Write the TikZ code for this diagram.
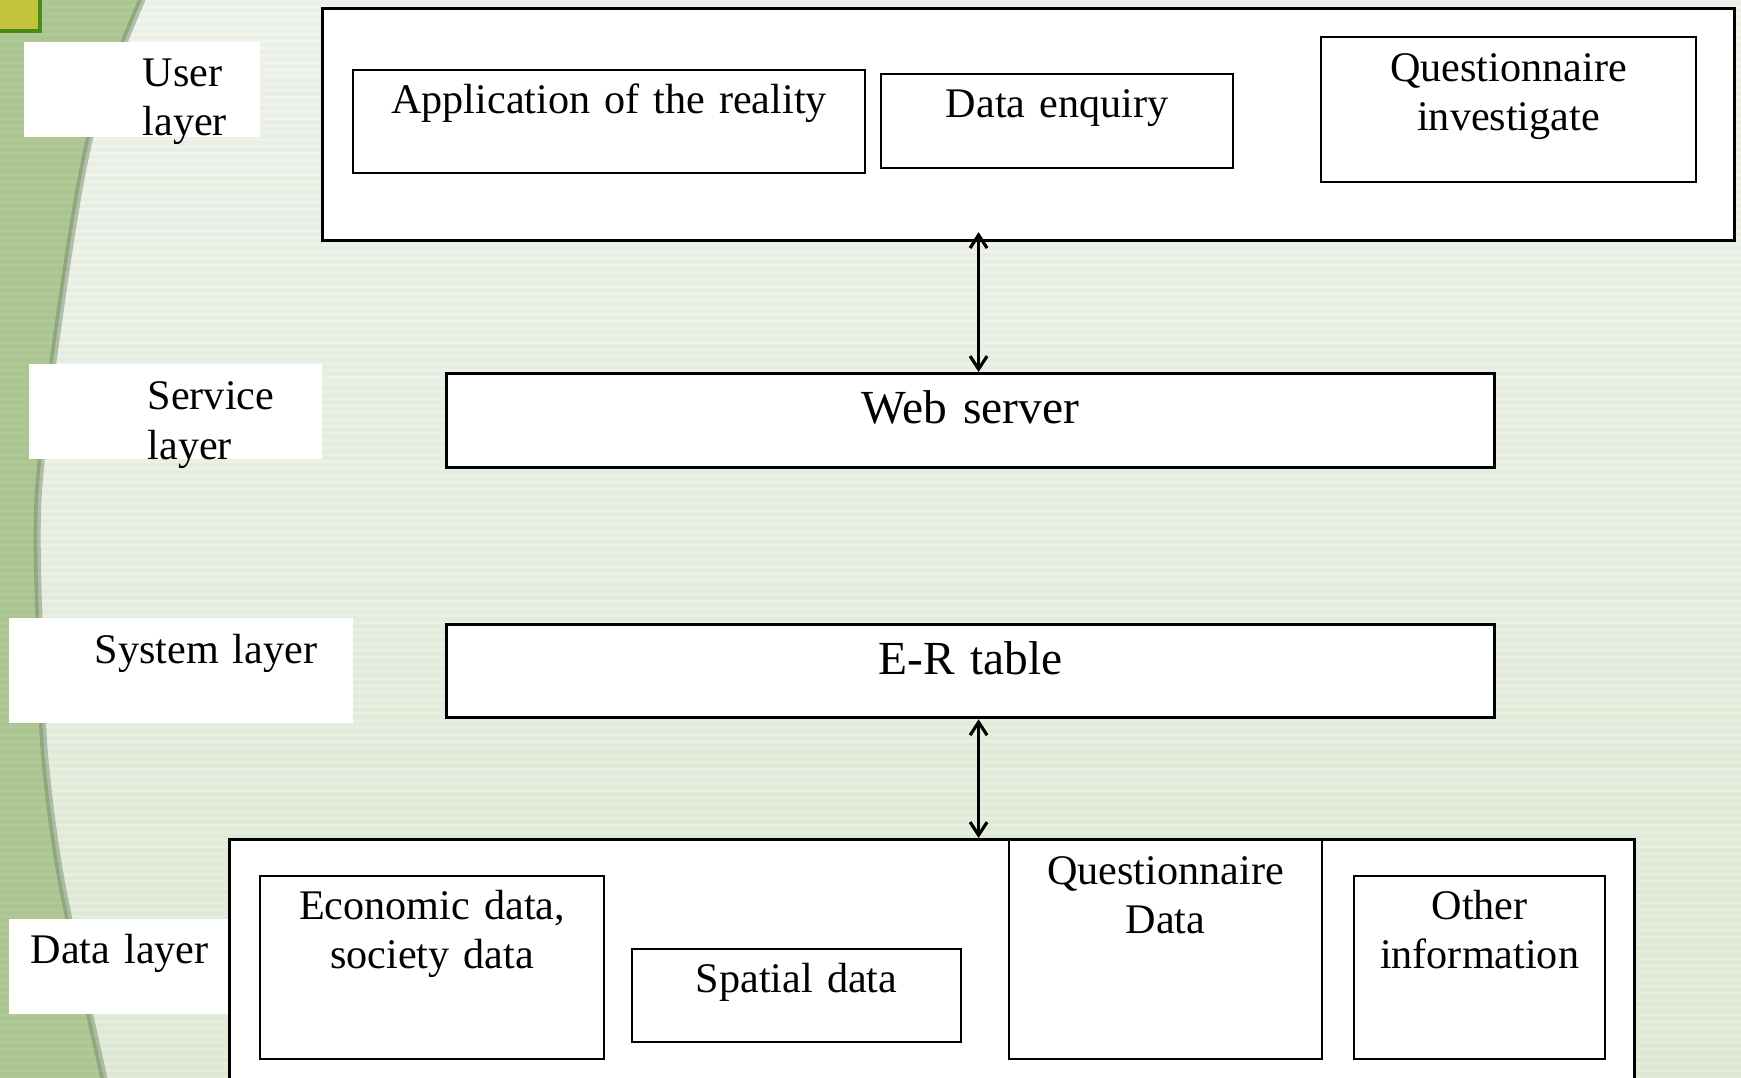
\documentclass[tikz,border=0pt]{standalone}
\usepackage{fontspec}
\setmainfont{Liberation Serif}
\usetikzlibrary{arrows.meta,positioning}

\definecolor{slidetop}{HTML}{F1F4EE}
\definecolor{slidemid}{HTML}{FAFBF8}
\definecolor{slidebot}{HTML}{E3ECD9}
\definecolor{slidegreen}{HTML}{AFC896}
\definecolor{slideedge}{HTML}{6E8466}
\definecolor{tabfill}{HTML}{C2C43C}
\definecolor{tabline}{HTML}{4B8A14}

\begin{document}
\begin{tikzpicture}[
    font=\fontsize{12}{14}\selectfont,
    frame/.style={draw, fill=white, line width=.9pt, inner sep=0pt, anchor=north west},
    box/.style={draw, fill=white, line width=.6pt, inner sep=0pt, anchor=north west, align=center, text height=.43cm},
    bar/.style={box, line width=.9pt, font=\fontsize{13.5}{16}\selectfont, text height=.50cm},
    tag/.style={inner sep=0pt, align=left, anchor=base west, text width=2cm},
    link/.style={{Straight Barb[length=1.3mm,width=1.7mm]}-{Straight Barb[length=1.3mm,width=1.7mm]}, line width=.9pt}
  ]
    \useasboundingbox (0,0) rectangle (17.41,-10.78);
    \clip (0,0) rectangle (17.41,-10.78);

    % slide background: pale wash, green band on the left, fine stripes
    \shade[top color=slidetop, middle color=slidemid, bottom color=slidebot] (0,0) rectangle (17.41,-10.78);
    \fill[slidegreen] (0,0.05) -- plot[smooth] coordinates {(1.44,0.05) (0.90,-1.37) (0.57,-3.33) (0.38,-5.0) (0.40,-6.5) (0.45,-7.6) (0.62,-8.85) (1.05,-10.83)} -- (0,-10.83) -- cycle;
    \draw[slideedge, line width=2pt, opacity=.45] plot[smooth] coordinates {(1.44,0.05) (0.90,-1.37) (0.57,-3.33) (0.38,-5.0) (0.40,-6.5) (0.45,-7.6) (0.62,-8.85) (1.05,-10.83)};
    \foreach \y in {0.03,0.10,...,10.8}
      \draw[green!30!black, opacity=.025, line width=1pt] (0,-\y) -- (17.41,-\y);
    \filldraw[fill=tabfill, draw=tabline, line width=1pt] (-0.2,0.2) rectangle (0.40,-0.31);

    % user layer
    \node[frame, minimum width=14.12cm, minimum height=2.32cm] (user) at (3.21,-0.07) {};
    \node[box, text width=5.12cm, text depth=.60cm] (app) at (3.52,-0.69) {Application of the reality};
    \node[box, text width=3.52cm, text depth=.51cm, right=.14cm of app.north east, anchor=north west, yshift=-.04cm] (enq) {Data enquiry};
    \node[box, text width=3.75cm, text height=.44cm, text depth=1.01cm] (quest) at (13.20,-0.36) {Questionnaire\\investigate};

    % service and system layers
    \node[bar, text width=10.48cm, text depth=.44cm] (ws) at (4.45,-3.72) {Web server};
    \node[bar, text width=10.48cm, text depth=.43cm, below=1.54cm of ws.south west, anchor=north west] (er) {E-R table};

    % data layer
    \node[frame, minimum width=14.05cm, minimum height=2.8cm] (dat) at (2.28,-8.38) {};
    \node[box, text width=3.44cm, text depth=1.40cm] (econ) at (2.59,-8.75) {Economic data,\\society data};
    \node[box, text width=3.29cm, text depth=.50cm] (spat) at (6.31,-9.48) {Spatial data};
    \node[box, text width=3.13cm, text height=.44cm, text depth=1.75cm] (qdat) at (10.08,-8.39) {Questionnaire\\Data};
    \node[box, text width=2.51cm, text depth=1.40cm] (other) at (13.53,-8.75) {Other\\information};

    % layer names
    \fill[white] (0.24,-0.42) rectangle (2.60,-1.37);
    \node[tag] (userlbl) at (1.42,-0.866) {User\\layer};
    \fill[white] (0.29,-3.64) rectangle (3.22,-4.59);
    \node[tag] (servlbl) at (1.47,-4.10) {Service\\layer};
    \fill[white] (0.09,-6.18) rectangle (3.53,-7.23);
    \node[tag, text width=2.6cm] (syslbl) at (0.94,-6.64) {System layer};
    \fill[white] (0.09,-9.19) rectangle (2.28,-10.14);
    \node[tag] (datlbl) at (0.30,-9.64) {Data layer};

    \draw[link, shorten >=-1mm] ([xshift=.08cm]ws.north) -- ([xshift=.08cm]ws.north |- user.south);
    \draw[link] ([xshift=.08cm]er.south) -- ([xshift=.08cm]er.south |- dat.north);
  \end{tikzpicture}
\end{document}
